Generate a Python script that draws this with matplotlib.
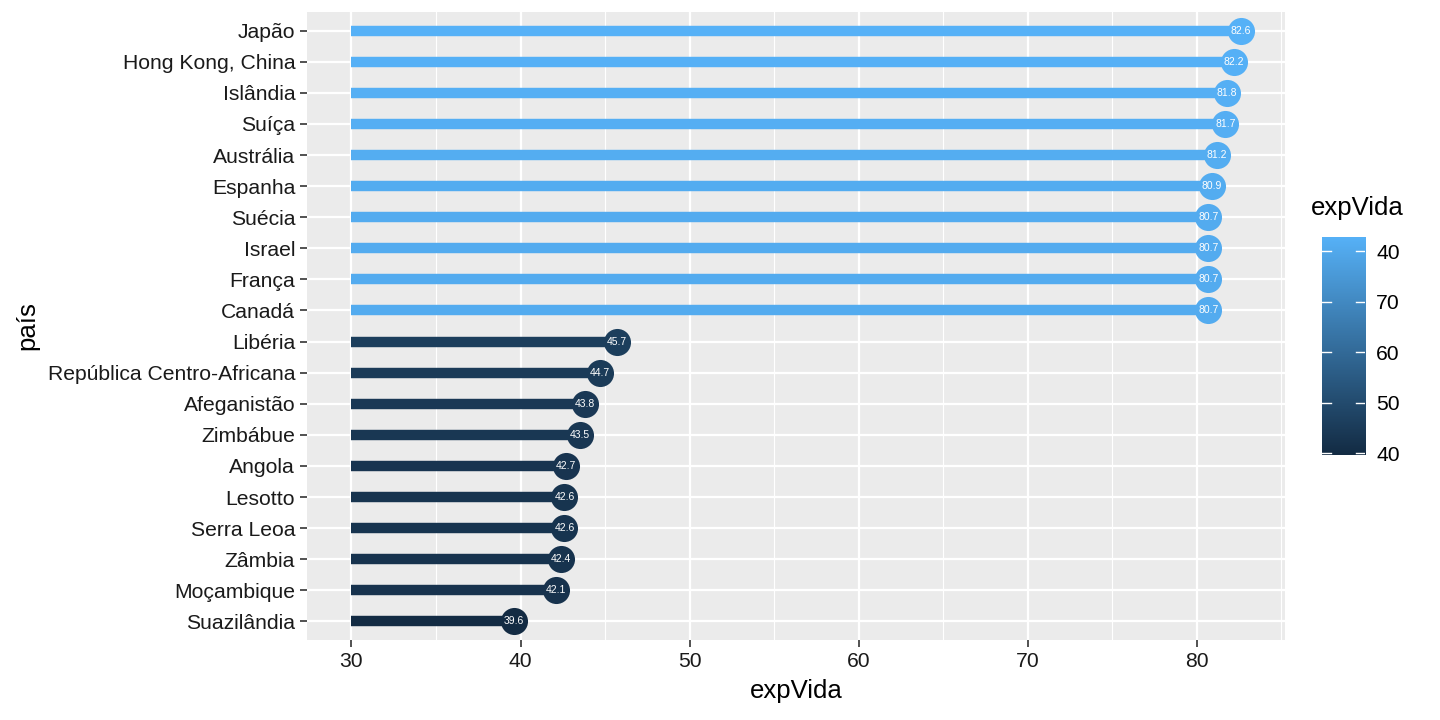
import matplotlib
matplotlib.use("Agg")
import matplotlib.pyplot as plt
import numpy as np
from matplotlib.colors import LinearSegmentedColormap, Normalize

# ─── Data ─────────────────────────────────────────────────────────────────────
paises = [
    "Japão", "Hong Kong, China", "Islândia", "Suíça", "Austrália",
    "Espanha", "Suécia", "Israel", "França", "Canadá",
    "Libéria", "República Centro-Africana", "Afeganistão", "Zimbábue", "Angola",
    "Lesotto", "Serra Leoa", "Zâmbia", "Moçambique", "Suazilândia",
]
exp_vida = [
    82.6, 82.2, 81.8, 81.7, 81.2,
    80.9, 80.7, 80.7, 80.7, 80.7,
    45.7, 44.7, 43.8, 43.5, 42.7,
    42.6, 42.6, 42.4, 42.1, 39.6,
]
seg_start = 30
x_ticks = [30, 40, 50, 60, 70, 80]
cbar_ticks = [40, 50, 60, 70, 80]
cbar_labels = ["40", "50", "60", "70", "40"]

# ─── Style ────────────────────────────────────────────────────────────────────
plt.rcParams["font.family"] = ["Liberation Sans", "DejaVu Sans"]
cmap = LinearSegmentedColormap.from_list("gg", ["#132B43", "#56B1F7"])
norm = Normalize(vmin=min(exp_vida), vmax=max(exp_vida))

fig = plt.figure(figsize=(14.4, 7.2), dpi=100)
ax = fig.add_axes([0.2132, 0.1111, 0.6792, 0.8722])
ax.set_facecolor("#EBEBEB")

n = len(paises)
ypos = np.arange(n)[::-1]

# grid
for x in x_ticks:
    ax.axvline(x, color="white", lw=1.6, zorder=1)
for x in np.arange(35, 90, 10):
    ax.axvline(x, color="white", lw=0.8, zorder=1)
for y in ypos:
    ax.axhline(y, color="white", lw=1.6, zorder=1)

for y, v in zip(ypos, exp_vida):
    c = cmap(norm(v))
    ax.plot([seg_start, v], [y, y], color=c, lw=7.5, solid_capstyle="butt", zorder=2)
    ax.scatter([v], [y], s=380, color=c, zorder=3, linewidths=0)
    ax.text(v, y, f"{v:.1f}", color="white", fontsize=7.5, ha="center", va="center", zorder=4)

ax.set_xlim(27.37, 85.23)
ax.set_ylim(-0.6, n - 0.4)
ax.set_xticks(x_ticks)
ax.set_yticks(ypos)
ax.set_yticklabels(paises)
ax.tick_params(axis="both", labelsize=15.2, color="#333333", length=5, width=1.2,
               labelcolor="#1a1a1a")
for s in ax.spines.values():
    s.set_visible(False)
ax.set_xlabel("expVida", fontsize=18.5, labelpad=6)
ax.set_ylabel("país", fontsize=18.5, labelpad=6)

# colorbar
cax = fig.add_axes([0.918, 0.365, 0.030, 0.307])
grad = np.linspace(norm.vmin, norm.vmax, 256).reshape(-1, 1)
cax.imshow(grad, aspect="auto", cmap=cmap, norm=norm, origin="lower",
           extent=[0, 1, norm.vmin, norm.vmax])
cax.set_xlim(0, 1)
cax.set_ylim(norm.vmin - 0.4, norm.vmax + 0.4)
for t in cbar_ticks:
    cax.plot([0, 0.2], [t, t], color="white", lw=1)
    cax.plot([0.8, 1], [t, t], color="white", lw=1)
cax.set_xticks([])
cax.yaxis.tick_right()
cax.set_yticks(cbar_ticks)
cax.set_yticklabels(cbar_labels)
cax.tick_params(axis="y", length=0, labelsize=15.2, pad=8)
for s in cax.spines.values():
    s.set_visible(False)
fig.text(0.9105, 0.695, "expVida", fontsize=18.5, ha="left", va="bottom")

fig.savefig("out.png", dpi=100)
